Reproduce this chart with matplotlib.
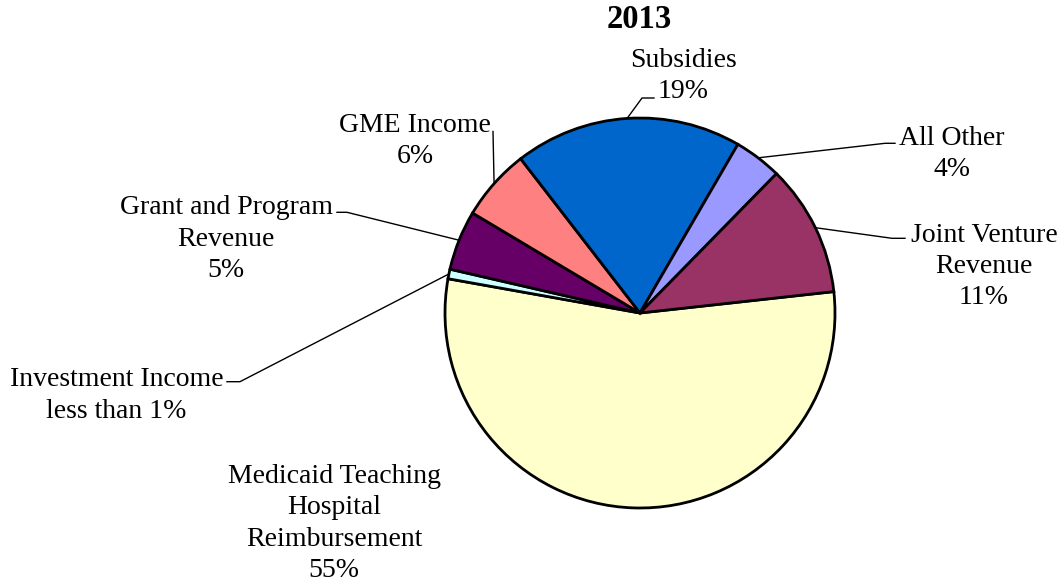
import numpy as np
import matplotlib.pyplot as plt

# slice data, clockwise from the first slice
labels = ["Medicaid Teaching\nHospital\nReimbursement\n55%",
          "Investment Income\nless than 1%",
          "Grant and Program\nRevenue\n5%",
          "GME Income\n6%",
          "Subsidies\n19%",
          "All Other\n4%",
          "Joint Venture\nRevenue\n11%"]
values = [55, 0.8, 5, 6, 19, 4, 11]
colors = ["#FFFFCC", "#CCFFFF", "#660066", "#FF8080", "#0066CC", "#9999FF", "#993366"]

W, H = 1061, 583
fig = plt.figure(figsize=(W / 100, H / 100), dpi=100)
ax = fig.add_axes([0, 0, 1, 1])

plt.rcParams['font.family'] = ['Liberation Serif', 'DejaVu Serif']

cx, cy, r = 640, H - 313, 195
wedges, _ = ax.pie(values, colors=colors, startangle=6.3, counterclock=False,
                   center=(cx, cy), radius=r, frame=True,
                   wedgeprops=dict(edgecolor="black", linewidth=2.0))
ax.set_xlim(0, W)
ax.set_ylim(0, H)
ax.set_aspect("equal")
ax.axis("off")

ax.text(639, H - 20, "2013", ha="center", va="center", fontsize=23.5, fontweight="bold")

# label block centre (x, y from top) and leader elbow / end points
label_pos = [(334, 523.5), (116.5, 395.5), (226, 239), (415, 141),
             (683, 76), (952, 154), (984, 266.5)]
leader = [None,
          [(240, 381.7), (227, 381.7)],
          [(347, 212.3), (337, 212.3)],
          [(493, 131.5)],
          [(642, 98), (654, 98)],
          [(885, 143.3), (895, 143.3)],
          [(892, 238.3), (905, 238.3)]]

for w, lab, pos, pts in zip(wedges, labels, label_pos, leader):
    ax.text(pos[0], H - pos[1], lab, ha="center", va="center",
            multialignment="center", fontsize=20, linespacing=1.34)
    if pts is None:
        continue
    mid = np.deg2rad((w.theta1 + w.theta2) / 2)
    xs = [cx + r * np.cos(mid)] + [p[0] for p in pts]
    ys = [cy + r * np.sin(mid)] + [H - p[1] for p in pts]
    ax.plot(xs, ys, color="black", linewidth=1.0)

fig.savefig("out.png", dpi=100)
